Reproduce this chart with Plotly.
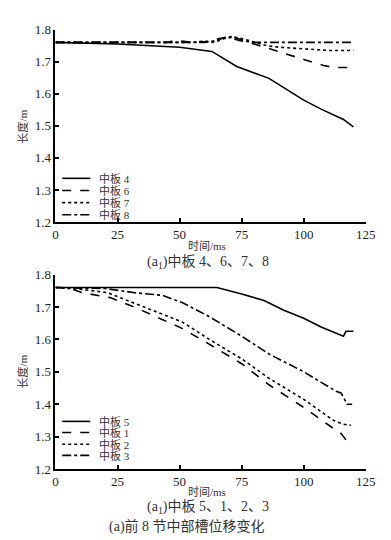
import plotly.graph_objects as go

# ---------------- data ----------------
# top panel: 中板 4、6、7、8
t4 = [0, 25, 50, 63, 73, 86, 100, 107, 116, 120]
v4 = [1.76, 1.755, 1.745, 1.732, 1.685, 1.648, 1.58, 1.552, 1.52, 1.497]

t6 = [0, 45, 48, 52, 56, 62, 66, 70, 74, 78, 82, 90, 100, 108, 112, 118, 120]
v6 = [1.76, 1.76, 1.766, 1.762, 1.76, 1.763, 1.772, 1.776, 1.766, 1.76, 1.75, 1.73, 1.707, 1.688, 1.682, 1.682, 1.688]

t7 = [0, 55, 60, 64, 68, 72, 76, 80, 85, 90, 100, 110, 118, 120]
v7 = [1.76, 1.76, 1.764, 1.76, 1.772, 1.777, 1.77, 1.762, 1.75, 1.745, 1.739, 1.735, 1.735, 1.737]

t8 = [0, 60, 65, 68, 71, 74, 77, 80, 120]
v8 = [1.76, 1.76, 1.766, 1.775, 1.778, 1.77, 1.763, 1.76, 1.76]

# bottom panel: 中板 5、1、2、3
t5 = [0, 65, 75, 84, 92, 100, 107, 112, 116, 117, 120]
v5 = [1.76, 1.76, 1.74, 1.72, 1.69, 1.665, 1.638, 1.622, 1.61, 1.625, 1.625]

t1 = [0, 5, 11, 22, 32, 41, 51, 62, 75, 86, 100, 112, 115, 117]
v1 = [1.76, 1.759, 1.744, 1.729, 1.699, 1.669, 1.634, 1.585, 1.525, 1.46, 1.39, 1.325, 1.31, 1.29]

t2 = [0, 11, 21, 29, 41, 51, 62, 75, 86, 100, 112, 116, 119]
v2 = [1.76, 1.754, 1.744, 1.719, 1.684, 1.654, 1.60, 1.54, 1.48, 1.415, 1.35, 1.338, 1.335]

t3 = [0, 20, 32, 43, 51, 62, 75, 86, 100, 113, 115, 117.5, 119.5]
v3 = [1.76, 1.757, 1.744, 1.736, 1.714, 1.67, 1.61, 1.555, 1.50, 1.44, 1.435, 1.40, 1.40]

x_ticks = [0, 25, 50, 75, 100, 125]
y_ticks = [1.2, 1.3, 1.4, 1.5, 1.6, 1.7, 1.8]

top_names = ["中板 4", "中板 6", "中板 7", "中板 8"]
bot_names = ["中板 5", "中板 1", "中板 2", "中板 3"]
dashes = ["solid", "dash", "dot", "dashdot"]

x_title = "时间/ms"
y_title = "长度/m"

FONT = "Liberation Serif, Noto Sans CJK SC, serif"
W, H = 391, 540

fig = go.Figure()

def add(t, v, name, dash, xa, ya, width=1.6):
    fig.add_trace(go.Scatter(x=t, y=v, name=name, mode="lines",
                             line=dict(color="black", width=width, dash=dash),
                             xaxis=xa, yaxis=ya, showlegend=False))

for (t, v), name, d in zip([(t4, v4), (t6, v6), (t7, v7), (t8, v8)], top_names, dashes):
    add(t, v, name, d, "x", "y")
for (t, v), name, d in zip([(t5, v5), (t1, v1), (t2, v2), (t3, v3)], bot_names, dashes):
    add(t, v, name, d, "x2", "y2")

def px_x(p):
    return p / W

def px_y(p):
    return 1 - p / H

xdom = [px_x(46), px_x(367)]
axis_common = dict(showline=True, linecolor="black", linewidth=1.5, showgrid=False,
                   zeroline=False, ticks="inside", ticklen=4, tickwidth=1.5,
                   tickcolor="black", tickfont=dict(family=FONT, size=13, color="#222"))

fig.update_layout(
    width=W, height=H, margin=dict(l=0, r=0, t=0, b=0),
    paper_bgcolor="white", plot_bgcolor="white",
    font=dict(family=FONT, color="#222"),
    xaxis=dict(domain=xdom, range=[0, 125], tickvals=x_ticks, anchor="y", **axis_common),
    yaxis=dict(domain=[px_y(213), px_y(15)], range=[1.2, 1.8], tickvals=y_ticks,
               tickformat=".1f", anchor="x", **axis_common),
    xaxis2=dict(domain=xdom, range=[0, 125], tickvals=x_ticks, anchor="y2", **axis_common),
    yaxis2=dict(domain=[px_y(467), px_y(267)], range=[1.2, 1.8], tickvals=y_ticks,
                tickformat=".1f", anchor="x2", **axis_common),
    showlegend=False,
)

# legend keys (compact rows as in the reference)
def legend(names, rows):
    for name, d, yc in zip(names, dashes, rows):
        fig.add_shape(type="line", xref="paper", yref="paper",
                      x0=px_x(53), x1=px_x(82), y0=px_y(yc), y1=px_y(yc),
                      line=dict(color="black", width=1.6, dash=d))
        fig.add_annotation(text=name, x=px_x(89), y=px_y(yc), xref="paper", yref="paper",
                           xanchor="left", yanchor="middle", showarrow=False,
                           font=dict(family=FONT, size=11, color="#333"))

legend(top_names, [168, 180.5, 193, 205.5])
legend(bot_names, [418, 429.5, 441.5, 453])

ann = [
    dict(text=y_title, x=px_x(12), y=px_y(115), textangle=-90, size=11),
    dict(text=y_title, x=px_x(12), y=px_y(367), textangle=-90, size=11),
    dict(text=x_title, x=px_x(203), y=px_y(238), textangle=0, size=11),
    dict(text=x_title, x=px_x(203), y=px_y(491), textangle=0, size=11),
    dict(text="(a<sub>1</sub>)中板 4、6、7、8", x=px_x(204), y=px_y(255), textangle=0, size=14),
    dict(text="(a<sub>1</sub>)中板 5、1、2、3", x=px_x(204), y=px_y(507), textangle=0, size=14),
    dict(text="(a)前 8 节中部槽位移变化", x=px_x(182), y=px_y(526), textangle=0, size=14),
]
for a in ann:
    fig.add_annotation(text=a["text"], x=a["x"], y=a["y"], xref="paper", yref="paper",
                       xanchor="center", yanchor="middle", showarrow=False,
                       textangle=a["textangle"],
                       font=dict(family=FONT, size=a["size"], color="#333"))

fig.write_html("out.html")
